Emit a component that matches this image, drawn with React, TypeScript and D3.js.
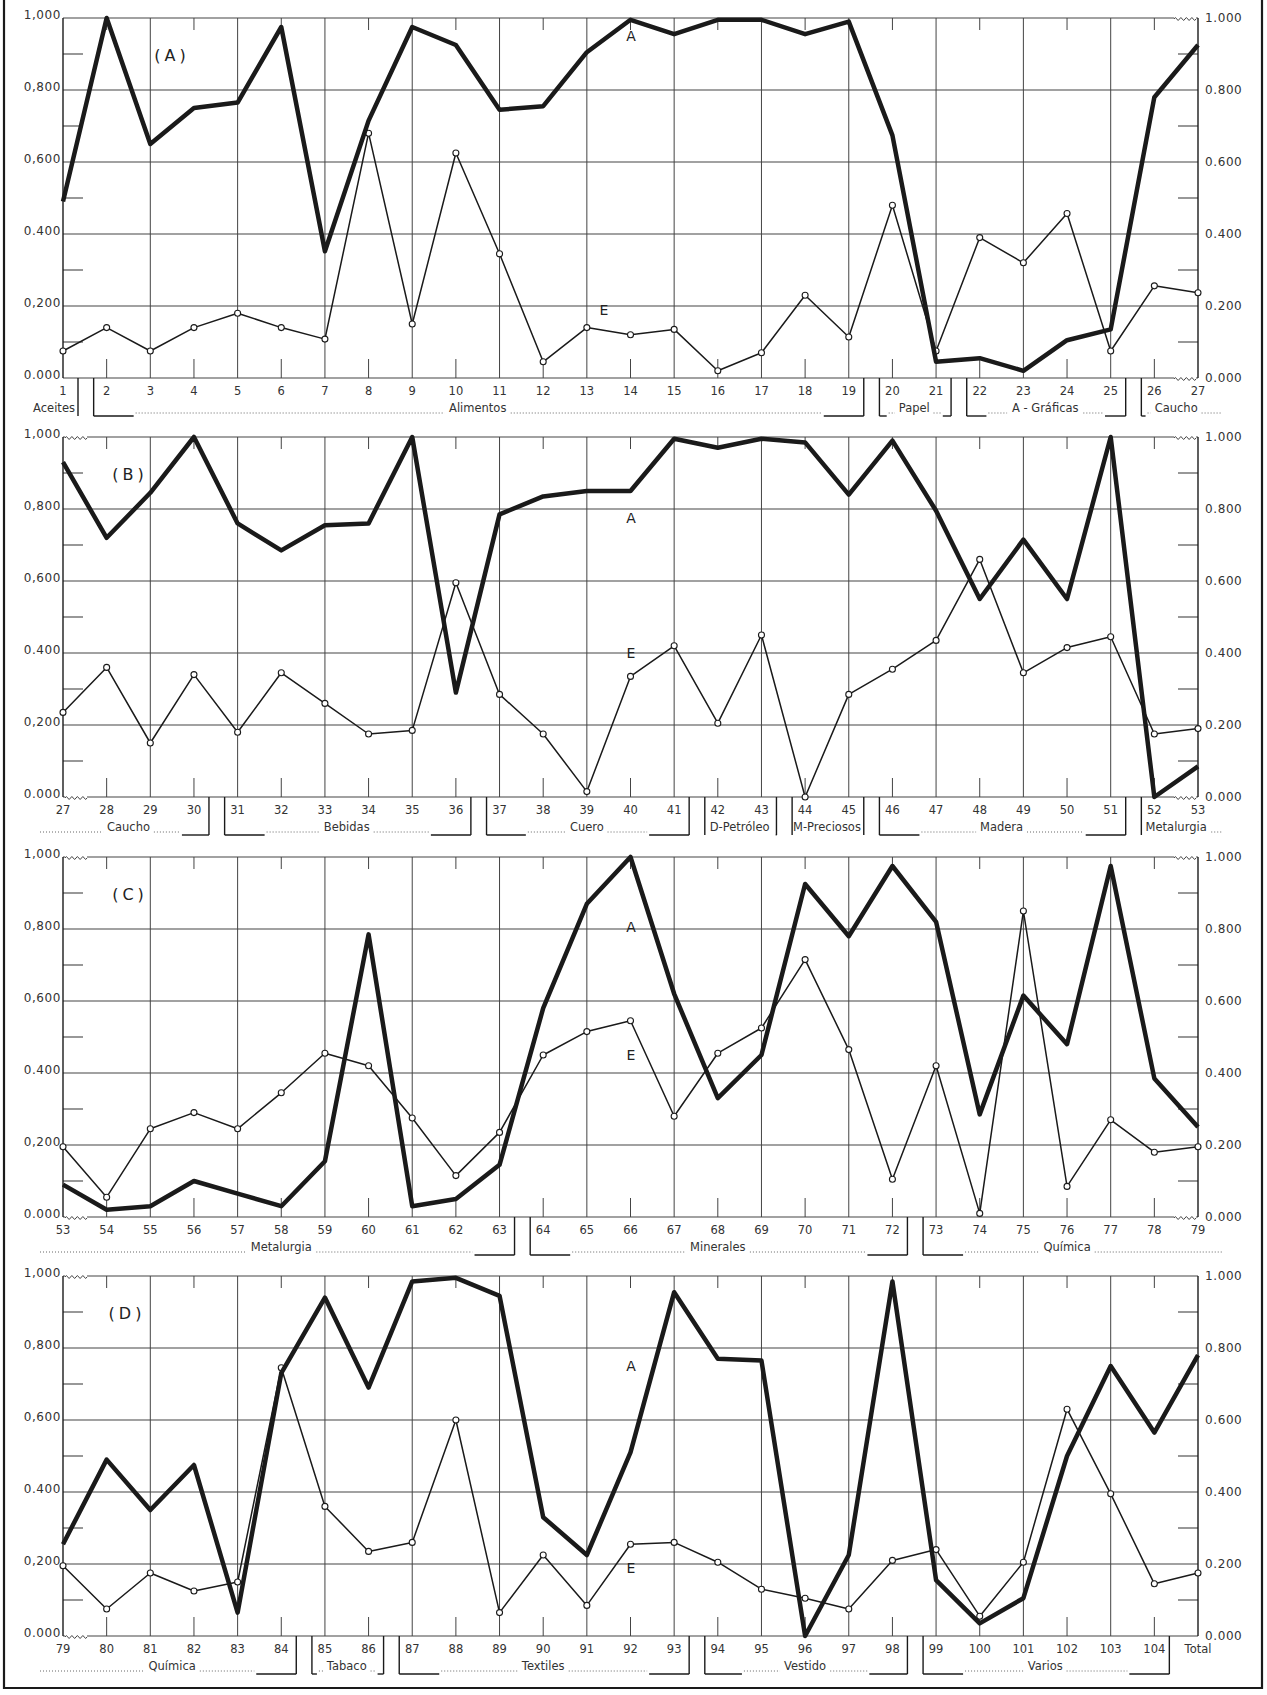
import React from "react";
import * as d3 from "d3";

// categories (industry numbers) for each of the four strips
const catsA = ["1", "2", "3", "4", "5", "6", "7", "8", "9", "10", "11", "12", "13", "14", "15", "16", "17", "18", "19", "20", "21", "22", "23", "24", "25", "26", "27"];
const catsB = ["27", "28", "29", "30", "31", "32", "33", "34", "35", "36", "37", "38", "39", "40", "41", "42", "43", "44", "45", "46", "47", "48", "49", "50", "51", "52", "53"];
const catsC = ["53", "54", "55", "56", "57", "58", "59", "60", "61", "62", "63", "64", "65", "66", "67", "68", "69", "70", "71", "72", "73", "74", "75", "76", "77", "78", "79"];
const catsD = ["79", "80", "81", "82", "83", "84", "85", "86", "87", "88", "89", "90", "91", "92", "93", "94", "95", "96", "97", "98", "99", "100", "101", "102", "103", "104", "Total"];

// series A (thick line) and E (thin line with circles)
const aPanelA = [0.49, 1.0, 0.65, 0.75, 0.765, 0.975, 0.352, 0.715, 0.975, 0.925, 0.745, 0.755, 0.905, 0.995, 0.955, 0.995, 0.995, 0.955, 0.99, 0.674, 0.045, 0.055, 0.02, 0.105, 0.135, 0.78, 0.925];
const ePanelA = [0.075, 0.14, 0.075, 0.14, 0.18, 0.14, 0.108, 0.68, 0.15, 0.625, 0.345, 0.045, 0.14, 0.12, 0.135, 0.02, 0.07, 0.23, 0.114, 0.48, 0.075, 0.39, 0.32, 0.457, 0.075, 0.256, 0.237];

const aPanelB = [0.93, 0.72, 0.845, 1.0, 0.76, 0.685, 0.755, 0.76, 1.0, 0.29, 0.785, 0.835, 0.85, 0.85, 0.995, 0.97, 0.995, 0.985, 0.84, 0.99, 0.795, 0.55, 0.715, 0.55, 1.0, 0.0, 0.085];
const ePanelB = [0.235, 0.36, 0.15, 0.34, 0.18, 0.345, 0.26, 0.175, 0.185, 0.595, 0.285, 0.175, 0.015, 0.335, 0.42, 0.205, 0.45, 0.0, 0.285, 0.355, 0.435, 0.66, 0.345, 0.415, 0.445, 0.175, 0.19];

const aPanelC = [0.09, 0.02, 0.03, 0.1, 0.065, 0.03, 0.155, 0.785, 0.03, 0.05, 0.145, 0.58, 0.87, 1.0, 0.62, 0.33, 0.45, 0.925, 0.78, 0.975, 0.82, 0.285, 0.615, 0.48, 0.975, 0.385, 0.25];
const ePanelC = [0.195, 0.055, 0.245, 0.29, 0.245, 0.345, 0.455, 0.42, 0.275, 0.115, 0.235, 0.45, 0.515, 0.545, 0.28, 0.455, 0.525, 0.715, 0.465, 0.105, 0.42, 0.01, 0.85, 0.085, 0.27, 0.18, 0.195];

const aPanelD = [0.255, 0.49, 0.35, 0.475, 0.065, 0.73, 0.94, 0.69, 0.985, 0.995, 0.945, 0.33, 0.225, 0.51, 0.955, 0.77, 0.765, 0.0, 0.225, 0.985, 0.155, 0.035, 0.105, 0.5, 0.75, 0.565, 0.78];
const ePanelD = [0.195, 0.075, 0.175, 0.125, 0.15, 0.745, 0.36, 0.235, 0.26, 0.6, 0.065, 0.225, 0.085, 0.255, 0.26, 0.205, 0.13, 0.105, 0.075, 0.21, 0.24, 0.055, 0.205, 0.63, 0.395, 0.145, 0.175];

// industry groups under each strip
const groupsA = [
  { label: "Aceites", from: "1", to: "1", openLeft: true },
  { label: "Alimentos", from: "2", to: "19" },
  { label: "Papel", from: "20", to: "21" },
  { label: "A - Gráficas", from: "22", to: "25" },
  { label: "Caucho", from: "26", to: "27", openRight: true },
];
const groupsB = [
  { label: "Caucho", from: "27", to: "30", openLeft: true },
  { label: "Bebidas", from: "31", to: "36" },
  { label: "Cuero", from: "37", to: "41" },
  { label: "D-Petróleo", from: "42", to: "43" },
  { label: "M-Preciosos", from: "44", to: "45" },
  { label: "Madera", from: "46", to: "51" },
  { label: "Metalurgia", from: "52", to: "53", openRight: true },
];
const groupsC = [
  { label: "Metalurgia", from: "53", to: "63", openLeft: true },
  { label: "Minerales", from: "64", to: "72" },
  { label: "Química", from: "73", to: "79", openRight: true },
];
const groupsD = [
  { label: "Química", from: "79", to: "84", openLeft: true },
  { label: "Tabaco", from: "85", to: "86" },
  { label: "Textiles", from: "87", to: "93" },
  { label: "Vestido", from: "94", to: "98" },
  { label: "Varios", from: "99", to: "104" },
];

const yTicks = [0, 0.2, 0.4, 0.6, 0.8, 1];
const yMinor = [0.1, 0.3, 0.5, 0.7, 0.9];
const leftTickLabels = ["0.000", "0,200", "0.400", "0,600", "0,800", "1,000"];
const rightTickLabels = ["0.000", "0.200", "0.400", "0.600", "0.800", "1.000"];

// layout
const X0 = 63;
const X1 = 1198;
const H = 360;
const INK = "#1a1a1a";
const GRID = "#444";
const FONT = "'DejaVu Sans', sans-serif";

let measureCtx: CanvasRenderingContext2D | null = null;
function textWidth(s: string, size: number) {
  if (!measureCtx) measureCtx = document.createElement("canvas").getContext("2d");
  if (!measureCtx) return s.length * size * 0.6;
  measureCtx.font = `${size}px ${FONT}`;
  return measureCtx.measureText(s).width + s.length * 0.3;
}

function wave(x0: number, y: number, w: number) {
  const n = 4;
  const step = w / n;
  let d = `M${x0},${y}`;
  for (let i = 0; i < n; i++) {
    d += ` q${step / 4},-3 ${step / 2},0 q${step / 4},3 ${step / 2},0`;
  }
  return d;
}

function Panel({ top, cats, aVals, eVals, groups, tag, tagX, aPos, ePos, waves }: any) {
  const x = d3.scalePoint<string>().domain(cats).range([X0, X1]);
  const y = d3.scaleLinear().domain([0, 1]).range([top + H, top]);
  const base = top + H;
  const line = d3
    .line<number>()
    .x((_, i) => x(cats[i]) as number)
    .y((d) => y(d));

  const groupFont = 11.5;
  const brY = base + 38;
  const dotY = base + 35;

  return (
    <g>
      {/* horizontal grid */}
      {yTicks.map((t) => (
        <line key={"h" + t} x1={X0} x2={X1} y1={y(t)} y2={y(t)} stroke={GRID} strokeWidth={1.1} />
      ))}
      {/* minor y ticks */}
      {yMinor.map((t) => (
        <g key={"m" + t}>
          <line x1={X0} x2={X0 + 20} y1={y(t)} y2={y(t)} stroke={GRID} strokeWidth={1.1} />
          <line x1={X1 - 20} x2={X1} y1={y(t)} y2={y(t)} stroke={GRID} strokeWidth={1.1} />
        </g>
      ))}
      {/* vertical grid / ticks */}
      {cats.map((c: string, i: number) => {
        const xx = x(c) as number;
        if (i === 0 || i === cats.length - 1)
          return <line key={"v" + c} x1={xx} x2={xx} y1={top} y2={base} stroke={INK} strokeWidth={1.4} />;
        if (i % 2 === 0)
          return <line key={"v" + c} x1={xx} x2={xx} y1={top} y2={base} stroke={GRID} strokeWidth={1} />;
        return (
          <g key={"v" + c}>
            <line x1={xx} x2={xx} y1={base - 19} y2={base} stroke={GRID} strokeWidth={1} />
            <line x1={xx} x2={xx} y1={top} y2={top + 12} stroke={GRID} strokeWidth={1} />
          </g>
        );
      })}
      {/* break marks */}
      {waves.map((w: string) => {
        const right = w[1] === "R";
        const yy = w[0] === "T" ? top : base;
        const x0 = right ? X1 - 24 : X0 + 2;
        return (
          <g key={w}>
            <line x1={x0} x2={x0 + 22} y1={yy} y2={yy} stroke="#fff" strokeWidth={2.5} />
            <path d={wave(x0, yy + 1, 22)} fill="none" stroke={GRID} strokeWidth={1} />
          </g>
        );
      })}
      {/* y labels */}
      {yTicks.map((t, i) => (
        <g key={"yl" + t} fontFamily={FONT} fontSize={12} fill="#333" letterSpacing={0.6}>
          <text x={X0 - 2} y={y(t)} dy="0.1em" textAnchor="end">
            {leftTickLabels[i]}
          </text>
          <text x={X1 + 7} y={y(t)} dy="0.35em" textAnchor="start">
            {rightTickLabels[i]}
          </text>
        </g>
      ))}
      {/* series E */}
      <path d={line(eVals) || ""} fill="none" stroke={INK} strokeWidth={1.5} strokeLinejoin="round" />
      {eVals.map((v: number, i: number) => (
        <circle key={"e" + i} cx={x(cats[i]) as number} cy={y(v)} r={3} fill="#fff" stroke={INK} strokeWidth={1.1} />
      ))}
      {/* series A */}
      <path d={line(aVals) || ""} fill="none" stroke={INK} strokeWidth={4.5} strokeLinejoin="round" />
      {/* in-panel labels */}
      <text x={tagX} y={top + 37} dy="0.35em" fontFamily={FONT} fontSize={16} textAnchor="middle" fill="#222" letterSpacing={4}>
        {`(${tag})`}
      </text>
      <text x={aPos[0]} y={y(aPos[1])} dy="0.35em" fontFamily={FONT} fontSize={14} textAnchor="middle" fill="#222">
        A
      </text>
      <text x={ePos[0]} y={y(ePos[1])} dy="0.35em" fontFamily={FONT} fontSize={14} textAnchor="middle" fill="#222">
        E
      </text>
      {/* category numbers */}
      {cats.map((c: string) => (
        <text key={"n" + c} x={x(c) as number} y={base + 13} dy="0.35em" fontFamily={FONT} fontSize={11.5} textAnchor="middle" fill="#333">
          {c}
        </text>
      ))}
      {/* group brackets */}
      {groups.map((g: any) => {
        const xf = x(g.from) as number;
        const xt = x(g.to) as number;
        const xl = g.openLeft ? 40 : xf - 13;
        const xr = g.openRight ? 1222 : xt + 15;
        const tw = textWidth(g.label, groupFont);
        const single = g.from === g.to;
        const cx = single ? xr - 2 - tw / 2 : (xf + xt) / 2;
        const tl = cx - tw / 2;
        const tr = cx + tw / 2;
        const parts: any[] = [];
        let dotL = xl;
        let dotR = xr;
        if (!g.openLeft) {
          const foot = Math.max(0, Math.min(40, (tl - xl) / 2 - 2));
          parts.push(<line key="vl" x1={xl} x2={xl} y1={base} y2={brY} stroke={INK} strokeWidth={1.4} />);
          if (foot > 0) parts.push(<line key="fl" x1={xl} x2={xl + foot} y1={brY} y2={brY} stroke={INK} strokeWidth={1.4} />);
          dotL = xl + foot + 2;
        }
        if (!g.openRight) {
          const foot = single ? 0 : Math.max(0, Math.min(40, (xr - tr) / 2 - 2));
          parts.push(<line key="vr" x1={xr} x2={xr} y1={base} y2={brY} stroke={INK} strokeWidth={1.4} />);
          if (foot > 0) parts.push(<line key="fr" x1={xr - foot} x2={xr} y1={brY} y2={brY} stroke={INK} strokeWidth={1.4} />);
          dotR = xr - foot - 2;
        }
        if (!single && tl - 3 - dotL > 3)
          parts.push(<line key="dl" x1={dotL} x2={tl - 3} y1={dotY} y2={dotY} stroke="#666" strokeWidth={1} strokeDasharray="1 2" />);
        if (!single && dotR - (tr + 3) > 3)
          parts.push(<line key="dr" x1={tr + 3} x2={dotR} y1={dotY} y2={dotY} stroke="#666" strokeWidth={1} strokeDasharray="1 2" />);
        return (
          <g key={"g" + g.label + g.from}>
            {parts}
            <text x={cx} y={base + 34} fontFamily={FONT} fontSize={groupFont} textAnchor="middle" fill="#333">
              {g.label}
            </text>
          </g>
        );
      })}
    </g>
  );
}

export default function App() {
  const panels = [
    { top: 18, cats: catsA, a: aPanelA, e: ePanelA, groups: groupsA, tag: "A", tagX: 172, aPos: [631, 0.95], ePos: [604, 0.19], waves: ["TR", "BR"] },
    { top: 437, cats: catsB, a: aPanelB, e: ePanelB, groups: groupsB, tag: "B", tagX: 130, aPos: [631, 0.775], ePos: [631, 0.4], waves: ["TL", "TR", "BL", "BR"] },
    { top: 857, cats: catsC, a: aPanelC, e: ePanelC, groups: groupsC, tag: "C", tagX: 130, aPos: [631, 0.805], ePos: [631, 0.45], waves: ["TL", "TR", "BL", "BR"] },
    { top: 1276, cats: catsD, a: aPanelD, e: ePanelD, groups: groupsD, tag: "D", tagX: 127, aPos: [631, 0.75], ePos: [631, 0.19], waves: ["TL", "BL"] },
  ];
  return (
    <svg width={1267} height={1695} style={{ display: "block", position: "absolute", left: 0, top: 0, background: "#fff" }}>
      <rect width={1267} height={1695} fill="#fff" />
      <path d="M4,0 V1688 H1262 V0" fill="none" stroke={INK} strokeWidth={2.2} />
      {panels.map((p) => (
        <Panel key={p.tag} top={p.top} cats={p.cats} aVals={p.a} eVals={p.e} groups={p.groups} tag={p.tag} tagX={p.tagX} aPos={p.aPos} ePos={p.ePos} waves={p.waves} />
      ))}
    </svg>
  );
}
